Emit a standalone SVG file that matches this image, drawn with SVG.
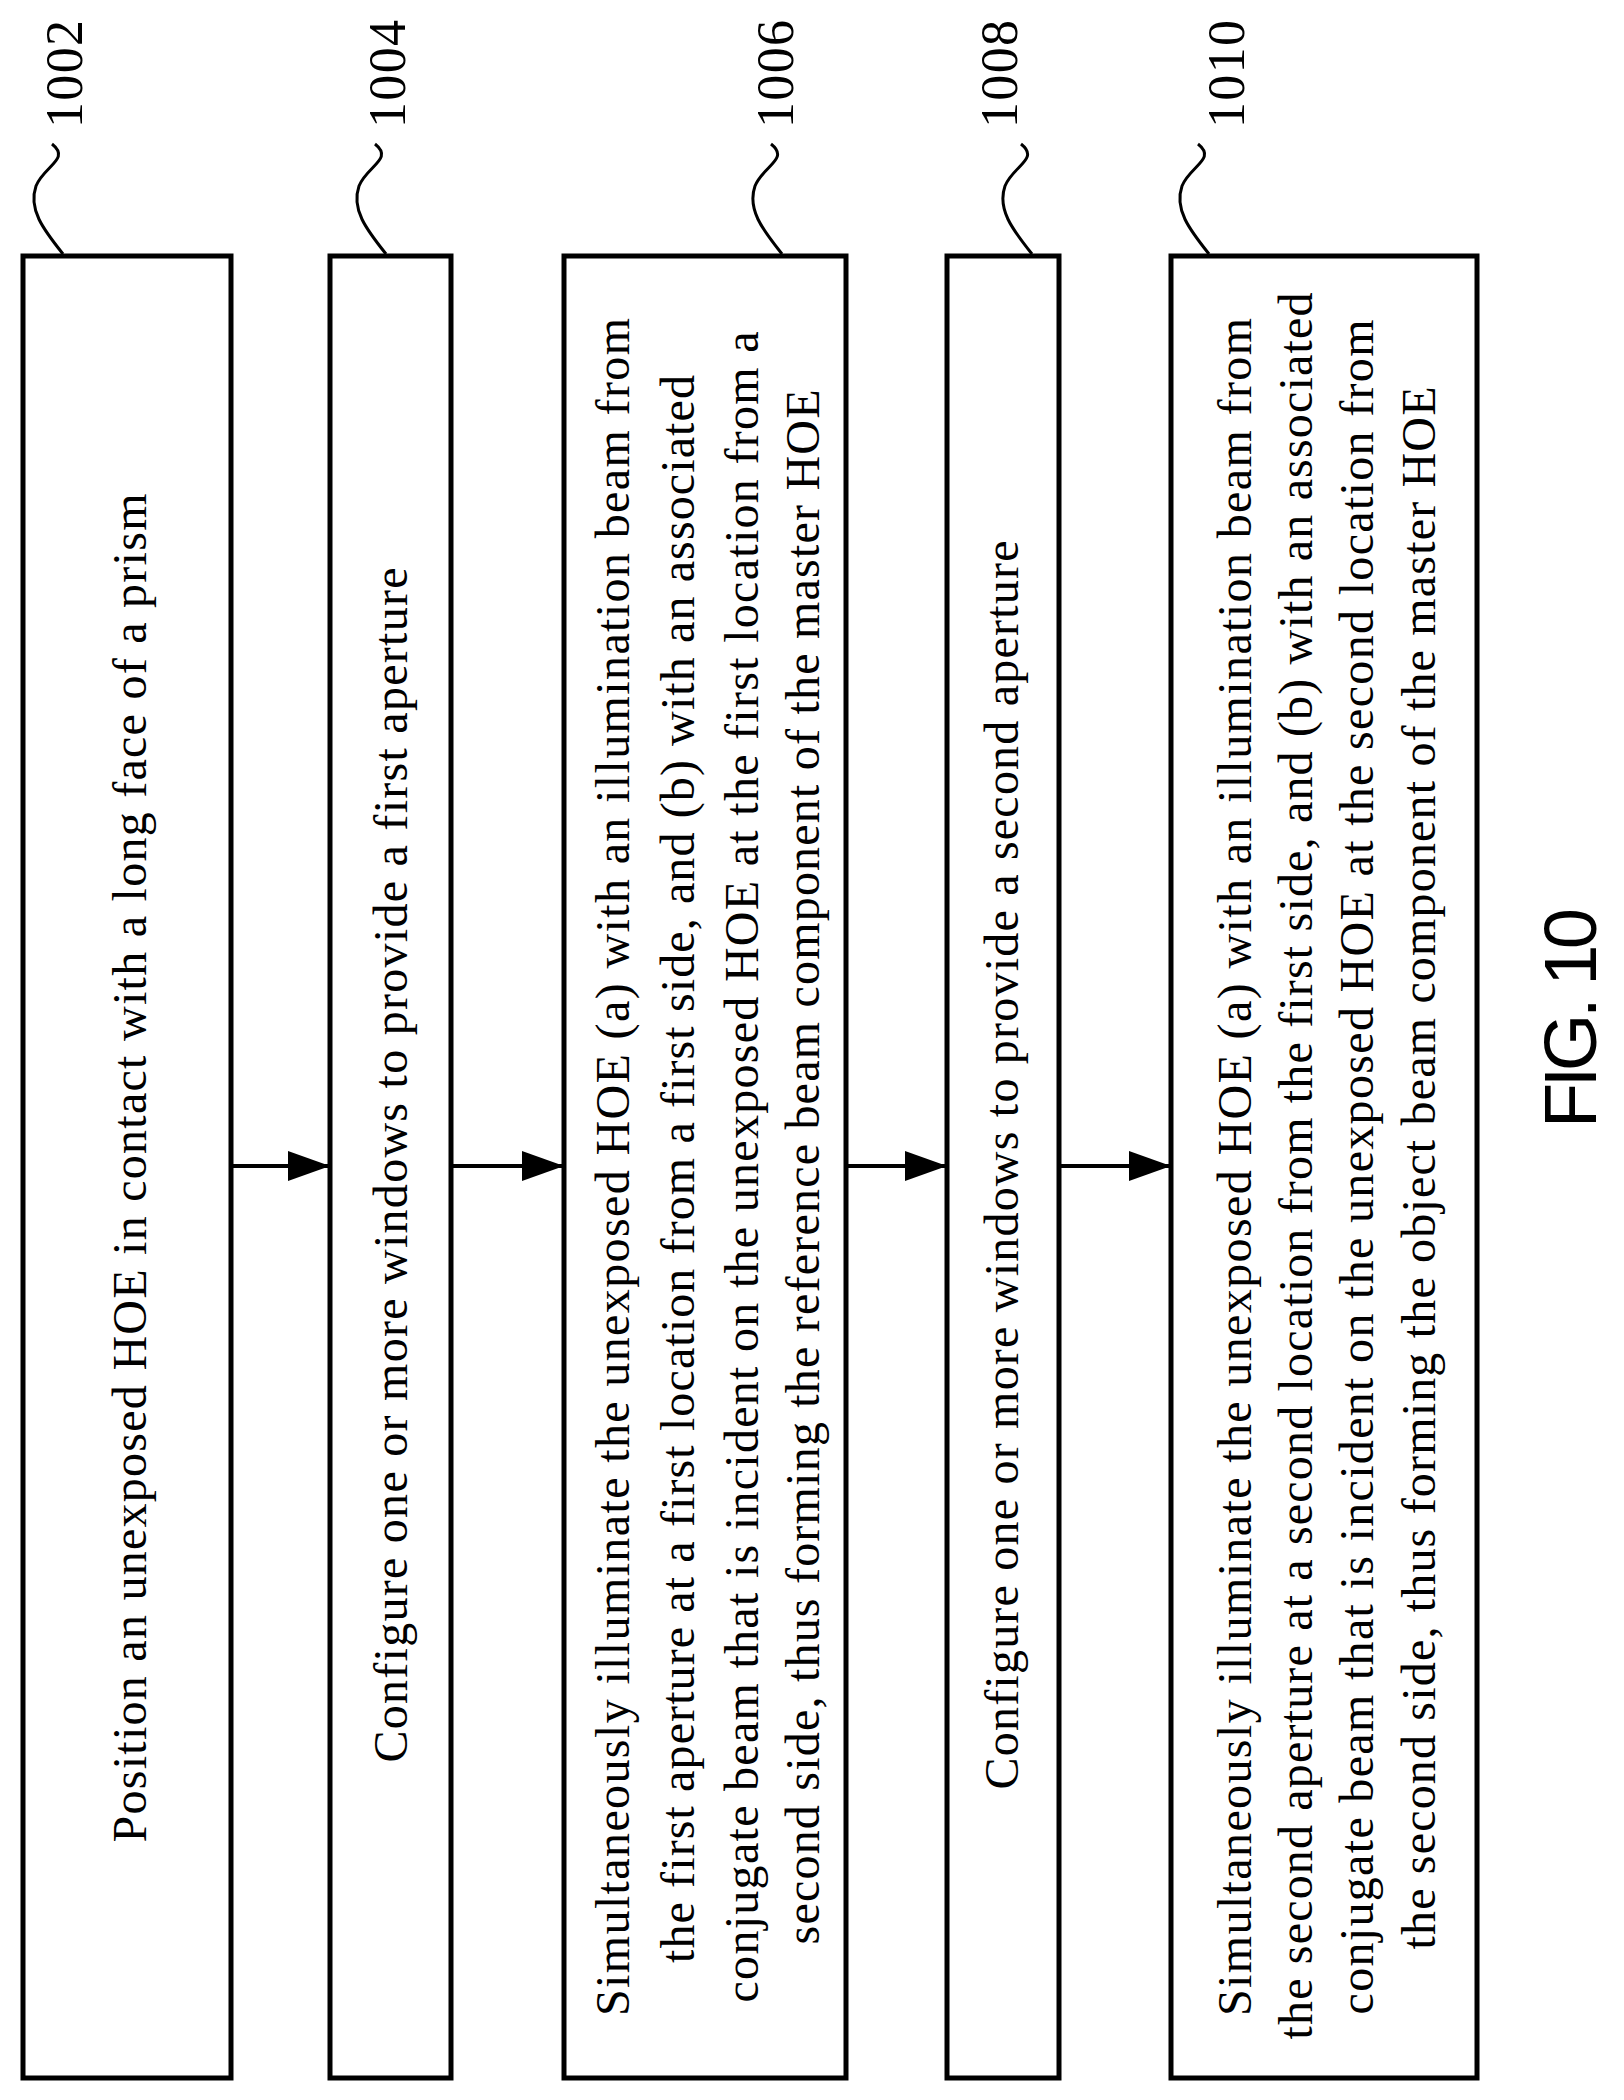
<svg xmlns="http://www.w3.org/2000/svg" width="1624" height="2100" viewBox="0 0 1624 2100">
<style>
.box{fill:#fff;stroke:#000;stroke-width:5}
.t{font-family:"Liberation Serif",serif;font-size:48px;fill:#000;text-anchor:middle}
.lab{font-family:"Liberation Serif",serif;font-size:52px;fill:#000;text-anchor:middle}
.sq{fill:none;stroke:#000;stroke-width:3}
.ar{stroke:#000;stroke-width:4;fill:none;marker-end:url(#ah)}
</style>
<defs>
<marker id="ah" markerWidth="42" markerHeight="30" refX="10" refY="4" orient="auto" markerUnits="userSpaceOnUse" viewBox="0 0 10 8" preserveAspectRatio="none">
<path d="M0,0 L10,4 L0,8 Z" fill="#000"/>
</marker>
<path id="sqp" d="M0,0 C-20,-25 -35,-45 -27,-68 C-19,-88 8,-95 -11,-110"/>
</defs>
<rect width="1624" height="2100" fill="#fff"/>
<g id="connectors">
<line class="ar" x1="231" y1="1166" x2="330" y2="1166"/>
<line class="ar" x1="451" y1="1166" x2="564" y2="1166"/>
<line class="ar" x1="846" y1="1166" x2="947" y2="1166"/>
<line class="ar" x1="1059" y1="1166" x2="1171" y2="1166"/>
</g>
<g id="n1002">
<rect class="box" x="23" y="256" width="208" height="1822"/>
<use href="#sqp" class="sq" x="63" y="254"/>
<text class="lab" transform="translate(82,74) rotate(-90)" textLength="108">1002</text>
<text class="t" transform="translate(146,1168) rotate(-90)" textLength="1349">Position an unexposed HOE in contact with a long face of a prism</text>
</g>
<g id="n1004">
<rect class="box" x="330" y="256" width="121" height="1822"/>
<use href="#sqp" class="sq" x="386" y="254"/>
<text class="lab" transform="translate(405,74) rotate(-90)" textLength="108">1004</text>
<text class="t" transform="translate(407,1165) rotate(-90)" textLength="1195">Configure one or more windows to provide a first aperture</text>
</g>
<g id="n1006">
<rect class="box" x="564" y="256" width="282" height="1822"/>
<use href="#sqp" class="sq" x="782" y="254"/>
<text class="lab" transform="translate(793,74) rotate(-90)" textLength="108">1006</text>
<text class="t" transform="translate(629,1167) rotate(-90)" textLength="1698">Simultaneously  illuminate  the unexposed HOE  (a) with an illumination  beam  from</text>
<text class="t" transform="translate(694,1169) rotate(-90)" textLength="1588">the first aperture at a first location  from a first side,  and (b) with an associated</text>
<text class="t" transform="translate(758,1167) rotate(-90)" textLength="1671">conjugate beam that is incident  on the unexposed  HOE  at the first location  from a</text>
<text class="t" transform="translate(819,1167) rotate(-90)" textLength="1555">second side, thus forming the reference beam component of the master HOE</text>
</g>
<g id="n1008">
<rect class="box" x="947" y="256" width="112" height="1822"/>
<use href="#sqp" class="sq" x="1032" y="254"/>
<text class="lab" transform="translate(1017,74) rotate(-90)" textLength="108">1008</text>
<text class="t" transform="translate(1018,1165) rotate(-90)" textLength="1249">Configure one or more windows to provide a second aperture</text>
</g>
<g id="n1010">
<rect class="box" x="1171" y="256" width="306" height="1822"/>
<use href="#sqp" class="sq" x="1209" y="254"/>
<text class="lab" transform="translate(1244,74) rotate(-90)" textLength="108">1010</text>
<text class="t" transform="translate(1251,1167) rotate(-90)" textLength="1698">Simultaneously  illuminate  the unexposed HOE  (a) with an illumination  beam  from</text>
<text class="t" transform="translate(1312,1166) rotate(-90)" textLength="1747">the second aperture at a second location from the first side, and (b) with an associated</text>
<text class="t" transform="translate(1373,1167) rotate(-90)" textLength="1695">conjugate beam that is incident  on the unexposed  HOE  at the second location  from</text>
<text class="t" transform="translate(1435,1168) rotate(-90)" textLength="1563">the second side, thus forming the object beam  component of the master HOE</text>
</g>
<text transform="translate(1596,1018) rotate(-90)" font-family="Liberation Sans, sans-serif" font-size="74" text-anchor="middle" textLength="220">FIG. 10</text>
</svg>
